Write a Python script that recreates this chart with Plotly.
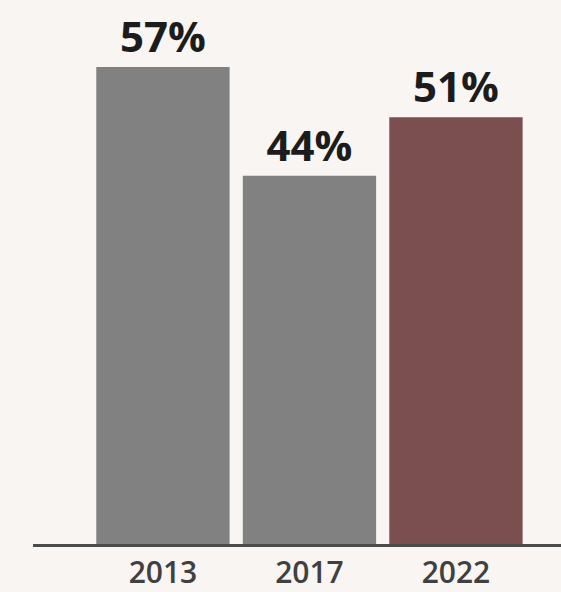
import plotly.graph_objects as go

years = ["2013", "2017", "2022"]
values = [57, 44, 51]
labels = ["57%", "44%", "51%"]
colors = ["#818181", "#818181", "#7b4f4f"]

fig = go.Figure(go.Bar(
    x=years, y=values,
    text=labels, textposition="outside",
    texttemplate="%{text}",
    textfont=dict(family="Open Sans", size=42, color="#1c1c1c", weight="bold"),
    marker=dict(color=colors, line=dict(width=0)),
    width=0.91,
    cliponaxis=False,
))

fig.update_layout(
    width=561, height=592,
    margin=dict(l=33, r=0, t=0, b=43),
    paper_bgcolor="#f8f5f2", plot_bgcolor="#f8f5f2",
    showlegend=False,
    xaxis=dict(
        type="category", range=[-0.887, 2.717],
        showline=True, linecolor="#4a4a4a", linewidth=3,
        showgrid=False, ticks="",
        tickfont=dict(family="Open Sans", size=30, color="#404040", weight=600),
    ),
    yaxis=dict(range=[0, 65], visible=False, showgrid=False, zeroline=False),
)

fig.write_html("out.html")
